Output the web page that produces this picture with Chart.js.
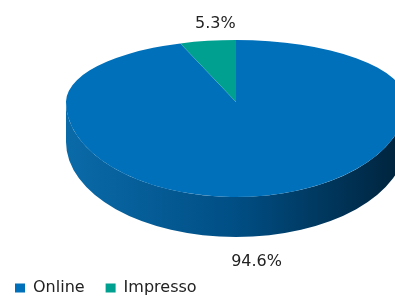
<!DOCTYPE html>
<html>
<head>
<meta charset="utf-8">
<script src="https://cdn.jsdelivr.net/npm/chart.js@4.4.1/dist/chart.umd.min.js"></script>
<style>
  html, body { margin: 0; padding: 0; background: #fff; }
  #wrap { width: 395px; height: 296px; }
</style>
</head>
<body>
<div id="wrap"><canvas id="chart"></canvas></div>
<script>
// data
const categories = ['Online', 'Impresso'];
const shares = [94.6, 5.3];
const shareLabels = shares.map(v => v.toFixed(1) + '%');

// styles
const sliceColors = ['#0070BA', '#00A091'];
const sideShades = [
  ['#0a6aa8', '#004e84', '#00223a'],
  ['#008a7c', '#00665a', '#003830']
];
const textFont = '"DejaVu Sans"';

// where the tilted pie lands on the page
const face = { x: 236, y: 102, rx: 170, ryTop: 62, ryBottom: 95, depth: 40 };

function tilt(ctx, arc, ry) {
  const p = arc.getProps(['x', 'y', 'outerRadius'], true);
  ctx.translate(face.x, face.y);
  ctx.scale(face.rx / p.outerRadius, ry / p.outerRadius);
  ctx.translate(-p.x, -p.y);
}

function drawSide(chart, arcs) {
  const ctx = chart.ctx;
  arcs.forEach((arc, i) => {
    const p = arc.getProps(['startAngle', 'endAngle'], true);
    [-2 * Math.PI, 0, 2 * Math.PI].forEach(k => {
      const a0 = Math.max(p.startAngle + k, 0);
      const a1 = Math.min(p.endAngle + k, Math.PI);
      if (a1 <= a0) return;
      const g = ctx.createLinearGradient(face.x - face.rx, 0, face.x + face.rx, 0);
      const sh = sideShades[i % sideShades.length];
      g.addColorStop(0, sh[0]);
      g.addColorStop(0.5, sh[1]);
      g.addColorStop(1, sh[2]);
      ctx.save();
      ctx.beginPath();
      ctx.ellipse(face.x, face.y + face.depth, face.rx, face.ryBottom, 0, a0, a1, false);
      ctx.ellipse(face.x, face.y, face.rx, face.ryBottom, 0, a1, a0, true);
      ctx.closePath();
      ctx.fillStyle = g;
      ctx.fill();
      ctx.restore();
    });
  });
}

const tiltPlugin = {
  id: 'tilt',
  beforeDatasetsDraw(chart) {
    const ctx = chart.ctx;
    const arcs = chart.getDatasetMeta(0).data;
    drawSide(chart, arcs);
    // far half of the face
    ctx.save();
    ctx.beginPath();
    ctx.rect(0, 0, chart.width, face.y);
    ctx.clip();
    tilt(ctx, arcs[0], face.ryTop);
  },
  afterDatasetsDraw(chart) {
    const ctx = chart.ctx;
    ctx.restore();
    const arcs = chart.getDatasetMeta(0).data;
    // near half of the face
    ctx.save();
    ctx.beginPath();
    ctx.rect(0, face.y, chart.width, chart.height - face.y);
    ctx.clip();
    tilt(ctx, arcs[0], face.ryBottom);
    arcs.forEach(a => a.draw(ctx));
    ctx.restore();

    // percentage labels
    ctx.save();
    ctx.font = '16px ' + textFont;
    ctx.fillStyle = '#222';
    ctx.textAlign = 'center';
    ctx.textBaseline = 'middle';
    arcs.forEach((arc, i) => {
      const p = arc.getProps(['startAngle', 'endAngle'], true);
      const mid = (p.startAngle + p.endAngle) / 2;
      const c = Math.cos(mid), s = Math.sin(mid);
      const lx = face.x + face.rx * c * 0.73;
      const ly = s < 0
        ? face.y + face.ryTop * s - 17
        : face.y + face.ryBottom * s + face.depth + 26;
      ctx.fillText(shareLabels[i], lx, ly);
    });
    ctx.restore();
  }
};

new Chart(document.getElementById('chart'), {
  type: 'pie',
  data: {
    labels: categories,
    datasets: [{
      data: shares,
      backgroundColor: sliceColors,
      borderWidth: 0,
      clip: false
    }]
  },
  options: {
    responsive: true,
    maintainAspectRatio: false,
    animation: false,
    events: [],
    layout: { padding: { left: -6, bottom: -10 } },
    plugins: {
      tooltip: { enabled: false },
      legend: {
        position: 'bottom',
        align: 'start',
        labels: {
          boxWidth: 10,
          boxHeight: 9,
          padding: 21,
          color: '#222',
          font: { family: 'DejaVu Sans', size: 16 }
        }
      }
    }
  },
  plugins: [tiltPlugin]
});
</script>
</body>
</html>
